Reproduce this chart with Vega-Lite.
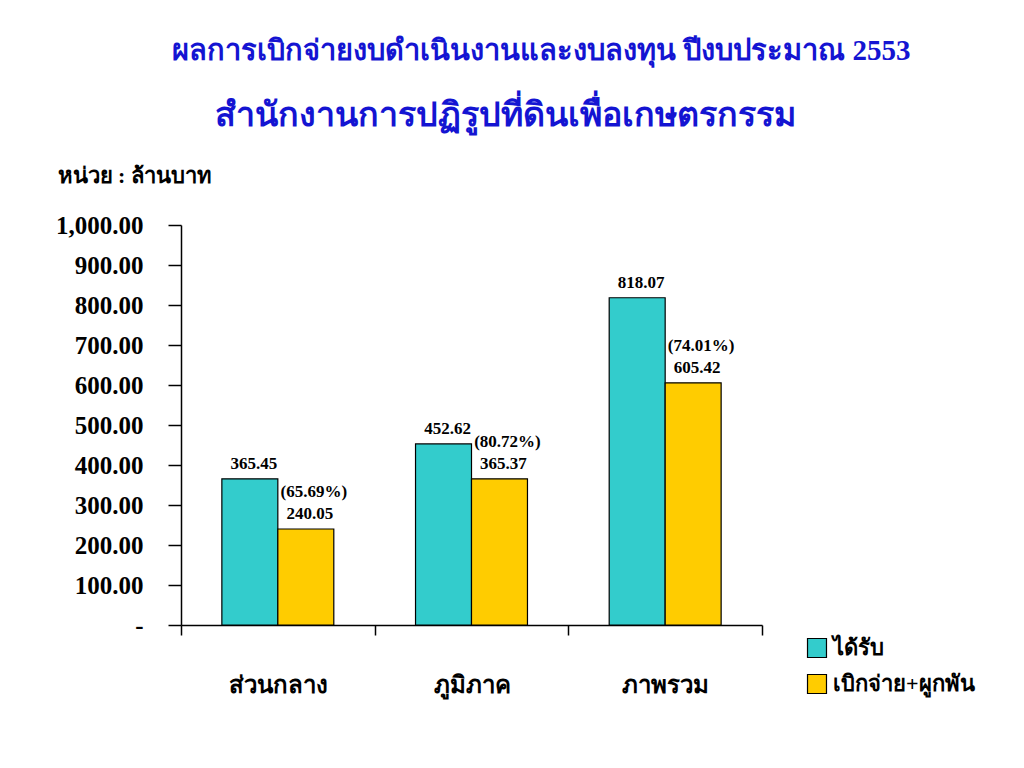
{
  "$schema": "https://vega.github.io/schema/vega-lite/v6.json",
  "autosize": "none",
  "width": 581,
  "height": 400,
  "padding": {"left": 181, "top": 225, "right": 262, "bottom": 143},
  "background": "white",
  "config": {"view": {"stroke": null}, "font": "Liberation Serif"},
  "title": {
    "text": "ผลการเบิกจ่ายงบดำเนินงานและงบลงทุน ปีงบประมาณ  2553",
    "subtitle": "\u200b\u2003\u2005สำนักงานการปฏิรูปที่ดินเพื่อเกษตรกรรม",
    "anchor": "start",
    "frame": "group",
    "dx": -9,
    "fontSize": 29,
    "fontWeight": "bold",
    "color": "#1414D2",
    "subtitleFontSize": 34,
    "subtitleFontWeight": "bold",
    "subtitleColor": "#1414D2",
    "subtitlePadding": 33,
    "font": "Liberation Serif",
    "subtitleFont": "Liberation Serif",
    "offset": 31
  },
  "data": {
    "values": [
      {"region": "ส่วนกลาง", "series": "ได้รับ", "value": 365.45, "label": "365.45", "pct": ""},
      {"region": "ส่วนกลาง", "series": "เบิกจ่าย+ผูกพัน", "value": 240.05, "label": "240.05", "pct": "(65.69%)"},
      {"region": "ภูมิภาค", "series": "ได้รับ", "value": 452.62, "label": "452.62", "pct": ""},
      {"region": "ภูมิภาค", "series": "เบิกจ่าย+ผูกพัน", "value": 365.37, "label": "365.37", "pct": "(80.72%)"},
      {"region": "ภาพรวม", "series": "ได้รับ", "value": 818.07, "label": "818.07", "pct": ""},
      {"region": "ภาพรวม", "series": "เบิกจ่าย+ผูกพัน", "value": 605.42, "label": "605.42", "pct": "(74.01%)"}
    ]
  },
  "encoding": {
    "x": {
      "field": "region",
      "type": "nominal",
      "sort": null,
      "scale": {"paddingInner": 0, "paddingOuter": 0},
      "axis": {
        "title": null,
        "labelAngle": 0,
        "labelFontSize": 24,
        "labelFontWeight": "bold",
        "labelColor": "black",
        "labelPadding": 38,
        "tickBand": "extent",
        "tickSize": 10,
        "tickColor": "black",
        "domainColor": "black",
        "domainWidth": 1.5,
        "tickWidth": 1.5
      }
    },
    "xOffset": {
      "field": "series",
      "type": "nominal",
      "sort": null,
      "scale": {"paddingInner": 0, "paddingOuter": 0.73}
    },
    "y": {
      "field": "value",
      "type": "quantitative",
      "scale": {"domain": [0, 1000], "nice": false},
      "axis": {
        "title": "หน่วย : ล้านบาท",
        "titleAngle": 0,
        "titleAlign": "left",
        "titleBaseline": "middle",
        "titleX": -124,
        "titleY": -50,
        "titleFontSize": 22,
        "titleFontWeight": "bold",
        "titleColor": "black",
        "values": [0, 100, 200, 300, 400, 500, 600, 700, 800, 900, 1000],
        "labelExpr": "datum.value == 0 ? '-' : format(datum.value, ',.2f')",
        "labelFontSize": 25,
        "labelFontWeight": "bold",
        "labelColor": "black",
        "labelPadding": 25,
        "tickSize": 13,
        "tickColor": "black",
        "tickWidth": 1.5,
        "domainColor": "black",
        "domainWidth": 1.5,
        "grid": false
      }
    }
  },
  "layer": [
    {
      "mark": {"type": "bar", "stroke": "black", "strokeWidth": 1.2},
      "encoding": {
        "color": {
          "field": "series",
          "type": "nominal",
          "sort": null,
          "scale": {"domain": ["ได้รับ", "เบิกจ่าย+ผูกพัน"], "range": ["#33CCCC", "#FFCC00"]},
          "legend": {
            "title": null,
            "orient": "none",
            "legendX": 625,
            "legendY": 412,
            "symbolType": "square",
            "symbolSize": 360,
            "symbolStrokeColor": "black",
            "symbolStrokeWidth": 1.2,
            "symbolOpacity": 1,
            "labelFontSize": 22,
            "labelFontWeight": "bold",
            "labelColor": "black",
            "rowPadding": 12,
            "labelOffset": 5
          }
        }
      }
    },
    {
      "mark": {"type": "text", "fontSize": 17, "fontWeight": "bold", "baseline": "bottom", "dy": -6, "dx": 4},
      "encoding": {
        "text": {"field": "label", "type": "nominal"}
      }
    },
    {
      "mark": {"type": "text", "fontSize": 17, "fontWeight": "bold", "baseline": "bottom", "dy": -28, "dx": 8},
      "encoding": {
        "text": {"field": "pct", "type": "nominal"}
      }
    }
  ]
}
